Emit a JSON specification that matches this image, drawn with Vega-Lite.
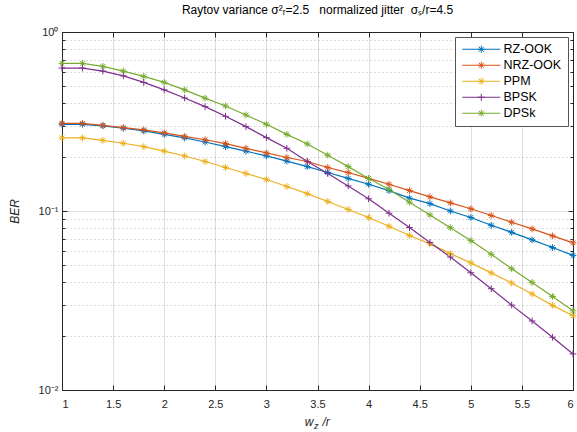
{
  "$schema": "https://vega.github.io/schema/vega-lite/v6.json",
  "width": 511,
  "height": 358,
  "autosize": {"type": "none"},
  "padding": {"left": 62, "top": 32, "right": 4, "bottom": 42},
  "background": "white",
  "config": {
    "view": {"stroke": "#262626", "strokeWidth": 1},
    "font": "Liberation Sans"
  },
  "title": {
    "text": "Raytov variance σ²ᵣ=2.5\u00a0\u00a0\u00a0normalized jitter\u00a0\u00a0σₛ/r=4.5",
    "fontSize": 12,
    "fontWeight": "normal",
    "color": "#000000",
    "offset": 9,
    "anchor": "middle",
    "font": "Liberation Sans"
  },
  "data": {
    "values": [
      {"x": 1.0, "RZ-OOK": 0.305, "NRZ-OOK": 0.309, "PPM": 0.256, "BPSK": 0.629, "DPSk": 0.668},
      {"x": 1.2, "RZ-OOK": 0.305, "NRZ-OOK": 0.309, "PPM": 0.256, "BPSK": 0.629, "DPSk": 0.668},
      {"x": 1.4, "RZ-OOK": 0.299, "NRZ-OOK": 0.301, "PPM": 0.248, "BPSK": 0.605, "DPSk": 0.643},
      {"x": 1.6, "RZ-OOK": 0.290, "NRZ-OOK": 0.292, "PPM": 0.239, "BPSK": 0.569, "DPSk": 0.605},
      {"x": 1.8, "RZ-OOK": 0.280, "NRZ-OOK": 0.284, "PPM": 0.229, "BPSK": 0.523, "DPSk": 0.565},
      {"x": 2.0, "RZ-OOK": 0.268, "NRZ-OOK": 0.273, "PPM": 0.216, "BPSK": 0.475, "DPSk": 0.523},
      {"x": 2.2, "RZ-OOK": 0.256, "NRZ-OOK": 0.261, "PPM": 0.203, "BPSK": 0.428, "DPSk": 0.475},
      {"x": 2.4, "RZ-OOK": 0.243, "NRZ-OOK": 0.250, "PPM": 0.189, "BPSK": 0.383, "DPSk": 0.427},
      {"x": 2.6, "RZ-OOK": 0.229, "NRZ-OOK": 0.238, "PPM": 0.175, "BPSK": 0.338, "DPSk": 0.386},
      {"x": 2.8, "RZ-OOK": 0.216, "NRZ-OOK": 0.224, "PPM": 0.162, "BPSK": 0.296, "DPSk": 0.344},
      {"x": 3.0, "RZ-OOK": 0.203, "NRZ-OOK": 0.211, "PPM": 0.150, "BPSK": 0.257, "DPSk": 0.305},
      {"x": 3.2, "RZ-OOK": 0.190, "NRZ-OOK": 0.199, "PPM": 0.137, "BPSK": 0.224, "DPSk": 0.268},
      {"x": 3.4, "RZ-OOK": 0.177, "NRZ-OOK": 0.189, "PPM": 0.125, "BPSK": 0.189, "DPSk": 0.237},
      {"x": 3.6, "RZ-OOK": 0.164, "NRZ-OOK": 0.175, "PPM": 0.113, "BPSK": 0.162, "DPSk": 0.205},
      {"x": 3.8, "RZ-OOK": 0.152, "NRZ-OOK": 0.164, "PPM": 0.102, "BPSK": 0.138, "DPSk": 0.177},
      {"x": 4.0, "RZ-OOK": 0.141, "NRZ-OOK": 0.152, "PPM": 0.092, "BPSK": 0.117, "DPSk": 0.152},
      {"x": 4.2, "RZ-OOK": 0.130, "NRZ-OOK": 0.141, "PPM": 0.0822, "BPSK": 0.0972, "DPSk": 0.132},
      {"x": 4.4, "RZ-OOK": 0.118, "NRZ-OOK": 0.130, "PPM": 0.0729, "BPSK": 0.0808, "DPSk": 0.112},
      {"x": 4.6, "RZ-OOK": 0.110, "NRZ-OOK": 0.120, "PPM": 0.0655, "BPSK": 0.0667, "DPSk": 0.0951},
      {"x": 4.8, "RZ-OOK": 0.100, "NRZ-OOK": 0.111, "PPM": 0.0578, "BPSK": 0.0553, "DPSk": 0.0807},
      {"x": 5.0, "RZ-OOK": 0.092, "NRZ-OOK": 0.103, "PPM": 0.0513, "BPSK": 0.0452, "DPSk": 0.0684},
      {"x": 5.2, "RZ-OOK": 0.0832, "NRZ-OOK": 0.0944, "PPM": 0.0451, "BPSK": 0.0368, "DPSk": 0.0573},
      {"x": 5.4, "RZ-OOK": 0.0760, "NRZ-OOK": 0.0865, "PPM": 0.0396, "BPSK": 0.0298, "DPSk": 0.0476},
      {"x": 5.6, "RZ-OOK": 0.0690, "NRZ-OOK": 0.0795, "PPM": 0.0344, "BPSK": 0.0243, "DPSk": 0.0399},
      {"x": 5.8, "RZ-OOK": 0.0625, "NRZ-OOK": 0.0726, "PPM": 0.0297, "BPSK": 0.0197, "DPSk": 0.0333},
      {"x": 6.0, "RZ-OOK": 0.0565, "NRZ-OOK": 0.0664, "PPM": 0.0260, "BPSK": 0.0159, "DPSk": 0.0277}
    ]
  },
  "transform": [
    {"fold": ["RZ-OOK", "NRZ-OOK", "PPM", "BPSK", "DPSk"], "as": ["series", "ber"]}
  ],
  "resolve": {"axis": {"x": "independent", "y": "independent"}},
  "layer": [
    {
      "mark": {"type": "line", "strokeWidth": 1.2},
      "encoding": {
        "x": {
          "field": "x",
          "type": "quantitative",
          "scale": {"domain": [1, 6], "nice": false, "zero": false},
          "axis": {
            "orient": "bottom",
            "values": [1, 1.5, 2, 2.5, 3, 3.5, 4, 4.5, 5, 5.5, 6],
            "format": "~g",
            "title": "w",
            "titleFontStyle": "italic",
            "titleFontWeight": "normal",
            "titleFontSize": 12,
            "titleColor": "#262626",
            "titleFont": "Liberation Sans",
            "titleX": 251,
            "titleY": 35,
            "titleAlign": "right",
            "titleBaseline": "alphabetic",
            "labelFontSize": 11,
            "labelColor": "#262626",
            "labelFont": "Liberation Sans",
            "labelPadding": 13,
            "domain": false,
            "tickSize": -5,
            "tickColor": "#262626",
            "grid": true,
            "gridColor": "#262626",
            "gridOpacity": 0.15
          }
        },
        "y": {
          "field": "ber",
          "type": "quantitative",
          "scale": {"type": "log", "domain": [0.01, 1], "nice": false},
          "axis": {
            "orient": "left",
            "values": [0.01, 0.02, 0.03, 0.04, 0.05, 0.06, 0.07, 0.08, 0.09, 0.1, 0.2, 0.3, 0.4, 0.5, 0.6, 0.7, 0.8, 0.9, 1],
            "labelExpr": "datum.value === 1 ? '10⁰' : datum.value === 0.1 ? '10⁻¹' : datum.value === 0.01 ? '10⁻²' : ''",
            "title": "BER",
            "titleFontStyle": "italic",
            "titleFontWeight": "normal",
            "titleFontSize": 12,
            "titleColor": "#262626",
            "titleFont": "Liberation Sans",
            "titlePadding": 17,
            "labelFontSize": 11,
            "labelColor": "#262626",
            "labelFont": "Liberation Sans",
            "labelPadding": 9,
            "domain": false,
            "tickColor": "#262626",
            "tickSize": {"condition": {"test": "datum.value === 1 || datum.value === 0.1 || datum.value === 0.01", "value": -5}, "value": -3},
            "grid": true,
            "gridColor": "#262626",
            "gridOpacity": {"condition": {"test": "datum.value === 1 || datum.value === 0.1 || datum.value === 0.01", "value": 0.15}, "value": 0.3},
            "gridDash": {"condition": {"test": "datum.value === 1 || datum.value === 0.1 || datum.value === 0.01", "value": []}, "value": [1, 3]}
          }
        },
        "color": {
          "field": "series",
          "type": "nominal",
          "scale": {
            "domain": ["RZ-OOK", "NRZ-OOK", "PPM", "BPSK", "DPSk"],
            "range": ["#0072BD", "#D95319", "#EDB120", "#7E2F8E", "#77AC30"]
          },
          "legend": {
            "title": null,
            "orient": "top-right",
            "offset": 5,
            "fillColor": "white",
            "strokeColor": "#555555",
            "padding": 6,
            "rowPadding": 3,
            "labelFontSize": 12.5,
            "labelFont": "Liberation Sans",
            "labelColor": "#000000",
            "labelOffset": 30,
            "symbolSize": 100,
            "symbolStrokeWidth": 1,
            "symbolType": "M-1,0L6.6,0M2.8,-0.7L2.8,0.7M2.1,0L3.5,0M2.3,-0.5L3.3,0.5M2.3,0.5L3.3,-0.5",
            "encode": {
              "symbols": {
                "update": {
                  "shape": {"signal": "datum.value === 'BPSK' ? 'M-1,0L6.6,0M2.8,-0.7L2.8,0.7M2.1,0L3.5,0' : 'M-1,0L6.6,0M2.8,-0.7L2.8,0.7M2.1,0L3.5,0M2.3,-0.5L3.3,0.5M2.3,0.5L3.3,-0.5'"}
                }
              }
            }
          }
        }
      }
    },
    {
      "transform": [{"filter": "datum.series !== 'BPSK'"}],
      "mark": {
        "type": "point",
        "filled": false,
        "strokeWidth": 1,
        "size": 45,
        "opacity": 1,
        "shape": "M-1,0L1,0M0,-1L0,1M-0.7,-0.7L0.7,0.7M-0.7,0.7L0.7,-0.7"
      },
      "encoding": {
        "x": {
          "field": "x",
          "type": "quantitative",
          "axis": {
            "orient": "top",
            "values": [1, 1.5, 2, 2.5, 3, 3.5, 4, 4.5, 5, 5.5, 6],
            "labels": false,
            "domain": false,
            "grid": false,
            "tickSize": -5,
            "tickColor": "#262626",
            "title": "z",
            "titleFontStyle": "italic",
            "titleFontWeight": "normal",
            "titleFontSize": 9,
            "titleColor": "#262626",
            "titleFont": "Liberation Sans",
            "titleX": 251.5,
            "titleY": 396,
            "titleAlign": "left",
            "titleBaseline": "alphabetic"
          }
        },
        "y": {
          "field": "ber",
          "type": "quantitative",
          "axis": {
            "orient": "right",
            "values": [0.01, 0.02, 0.03, 0.04, 0.05, 0.06, 0.07, 0.08, 0.09, 0.1, 0.2, 0.3, 0.4, 0.5, 0.6, 0.7, 0.8, 0.9, 1],
            "labels": false,
            "domain": false,
            "grid": false,
            "title": "/r",
            "titleFontStyle": "italic",
            "titleFontWeight": "normal",
            "titleFontSize": 12,
            "titleColor": "#262626",
            "titleFont": "Liberation Sans",
            "titleAngle": 0,
            "titleX": -251,
            "titleY": 393,
            "titleAlign": "left",
            "titleBaseline": "alphabetic",
            "tickColor": "#262626",
            "tickSize": {"condition": {"test": "datum.value === 1 || datum.value === 0.1 || datum.value === 0.01", "value": -5}, "value": -3}
          }
        },
        "color": {"field": "series", "type": "nominal", "legend": null}
      }
    },
    {
      "transform": [{"filter": "datum.series === 'BPSK'"}],
      "mark": {
        "type": "point",
        "filled": false,
        "strokeWidth": 1,
        "size": 45,
        "opacity": 1,
        "shape": "M-1,0L1,0M0,-1L0,1"
      },
      "encoding": {
        "x": {"field": "x", "type": "quantitative", "axis": null},
        "y": {"field": "ber", "type": "quantitative", "axis": null},
        "color": {"field": "series", "type": "nominal", "legend": null}
      }
    }
  ]
}
